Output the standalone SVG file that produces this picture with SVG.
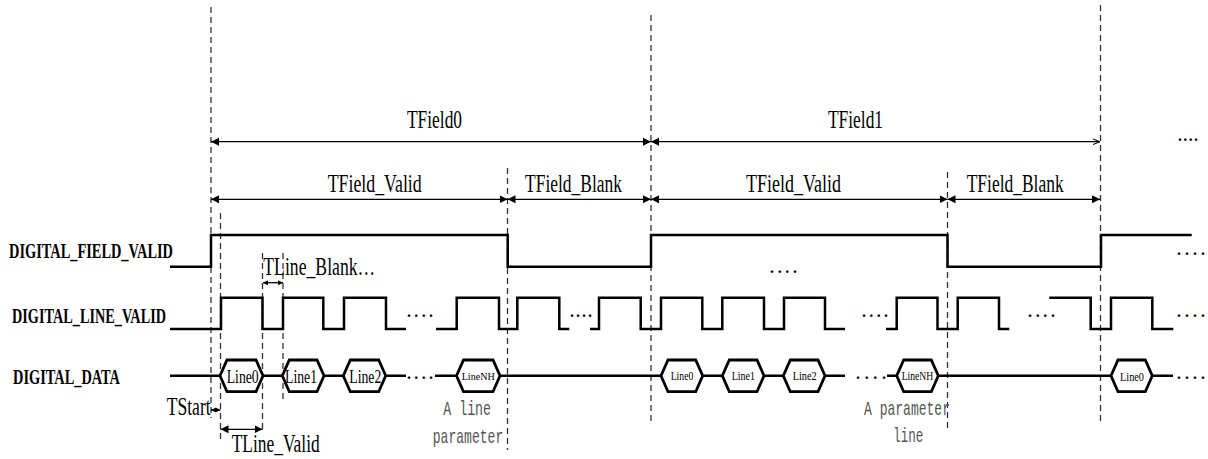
<svg xmlns="http://www.w3.org/2000/svg" width="1208" height="459" viewBox="0 0 1208 459">
<style>
  .bg{fill:#fff}
  .dash{stroke:#333;stroke-width:1.3;stroke-dasharray:6,4;fill:none}
  .wave{stroke:#000;stroke-width:2.5;fill:none;stroke-linejoin:miter}
  .hex{stroke:#000;stroke-width:2.8;fill:#fff;stroke-linejoin:miter}
  .dim{stroke:#000;stroke-width:1.3;fill:none}
  .lbl{font-family:"Liberation Serif",serif;font-weight:bold;font-size:20px;fill:#000}
  .t{font-family:"Liberation Serif",serif;font-size:25px;fill:#000}
  .h1{font-family:"Liberation Serif",serif;font-size:19px;fill:#000}
  .h2{font-family:"Liberation Serif",serif;font-size:13px;fill:#000}
  .hs{font-family:"Liberation Serif",serif;font-size:11px;fill:#000}
  .note{font-family:"Liberation Mono",monospace;font-size:21px;fill:#555}
  .dots{font-family:"Liberation Serif",serif;font-weight:bold;font-size:16px;fill:#000}
</style>
<defs>
  <marker id="arr" viewBox="0 0 10 10" refX="10" refY="5" markerUnits="userSpaceOnUse" markerWidth="8" markerHeight="9" orient="auto-start-reverse">
    <path d="M0,0 L10,5 L0,10 z" fill="#000"/>
  </marker>
  <marker id="arrS" viewBox="0 0 10 10" refX="10" refY="5" markerUnits="userSpaceOnUse" markerWidth="5" markerHeight="6" orient="auto-start-reverse">
    <path d="M0,0 L10,5 L0,10 z" fill="#000"/>
  </marker>
  <marker id="arrO" viewBox="0 0 10 10" refX="10" refY="5" markerUnits="userSpaceOnUse" markerWidth="7" markerHeight="7" orient="auto-start-reverse">
    <path d="M0,1 L10,5 L0,9" fill="none" stroke="#000" stroke-width="1.5"/>
  </marker>
</defs>
<rect class="bg" x="0" y="0" width="1208" height="459"/>

<g id="guides">
  <line class="dash" x1="211" y1="7" x2="211" y2="418"/>
  <line class="dash" x1="220.5" y1="213" x2="220.5" y2="440"/>
  <line class="dash" x1="262.5" y1="253" x2="262.5" y2="432"/>
  <line class="dash" x1="283" y1="253" x2="283" y2="400"/>
  <line class="dash" x1="507.5" y1="168" x2="507.5" y2="450"/>
  <line class="dash" x1="651" y1="15" x2="651" y2="423"/>
  <line class="dash" x1="947.5" y1="172" x2="947.5" y2="430"/>
  <line class="dash" x1="1100.5" y1="5" x2="1100.5" y2="423"/>
</g>

<g id="labels">
  <text class="lbl" x="9" y="258" textLength="164" lengthAdjust="spacingAndGlyphs">DIGITAL_FIELD_VALID</text>
  <text class="lbl" x="12" y="323" textLength="154" lengthAdjust="spacingAndGlyphs">DIGITAL_LINE_VALID</text>
  <text class="lbl" x="13" y="384" textLength="107" lengthAdjust="spacingAndGlyphs">DIGITAL_DATA</text>
</g>

<g id="connectors">
  <line class="dim" x1="211" y1="141.7" x2="651" y2="141.7" marker-start="url(#arr)" marker-end="url(#arr)"/>
  <line class="dim" x1="651" y1="141.7" x2="1100" y2="141.7" marker-start="url(#arr)" marker-end="url(#arrO)"/>
  <line class="dim" x1="211" y1="199.3" x2="507.5" y2="199.3" marker-start="url(#arr)" marker-end="url(#arr)"/>
  <line class="dim" x1="507.5" y1="199.3" x2="651" y2="199.3" marker-start="url(#arr)" marker-end="url(#arr)"/>
  <line class="dim" x1="651" y1="199.3" x2="947.5" y2="199.3" marker-start="url(#arr)" marker-end="url(#arr)"/>
  <line class="dim" x1="947.5" y1="199.3" x2="1100" y2="199.3" marker-start="url(#arr)" marker-end="url(#arr)"/>
  <line class="dim" x1="263" y1="282.7" x2="283" y2="282.7" marker-start="url(#arrS)" marker-end="url(#arrS)"/>
  <line class="dim" x1="211" y1="410" x2="220.5" y2="410" marker-start="url(#arrS)" marker-end="url(#arrS)"/>
  <line class="dim" x1="220.5" y1="429.3" x2="262.5" y2="429.3" marker-start="url(#arr)" marker-end="url(#arr)"/>
</g>

<g id="dim-labels">
  <text class="t" x="407" y="128" textLength="55" lengthAdjust="spacingAndGlyphs">TField0</text>
  <text class="t" x="828" y="128" textLength="55" lengthAdjust="spacingAndGlyphs">TField1</text>
  <text class="t" x="327.7" y="191.7" textLength="94" lengthAdjust="spacingAndGlyphs">TField_Valid</text>
  <text class="t" x="525" y="191.7" textLength="97" lengthAdjust="spacingAndGlyphs">TField_Blank</text>
  <text class="t" x="746" y="191.7" textLength="95" lengthAdjust="spacingAndGlyphs">TField_Valid</text>
  <text class="t" x="966.7" y="191.7" textLength="97" lengthAdjust="spacingAndGlyphs">TField_Blank</text>
  <text class="t" x="263.3" y="275" textLength="112" lengthAdjust="spacingAndGlyphs">TLine_Blank…</text>
  <text class="t" x="166.7" y="415" font-size="21" textLength="44" lengthAdjust="spacingAndGlyphs">TStart</text>
  <text class="t" x="231.7" y="451.7" font-size="23" textLength="88" lengthAdjust="spacingAndGlyphs">TLine_Valid</text>
  <text class="dots" x="1178" y="141" textLength="20" lengthAdjust="spacing">....</text>
</g>

<g id="field-valid">
  <path class="wave" d="M170,266.7 H211 V235 H507.7 V266.7 H651 V235 H947.5 V266.7 H1101 V235 H1191.7"/>
  <text class="dots" x="770" y="273" textLength="27" lengthAdjust="spacing">....</text>
  <text class="dots" x="1177" y="255" textLength="28" lengthAdjust="spacing">....</text>
</g>

<g id="line-valid">
  <path class="wave" d="M170,329 H221 V297.7 H262.5 V329 H283 V297.7 H323.3 V329 H344 V297.7 H386 V329 H406"/>
  <path class="wave" d="M436,329 H456.7 V297.7 H499 V329 H517.3 V297.7 H559.3 V329 H569.3"/>
  <path class="wave" d="M590,329 H599 V297.7 H640.7 V329 H661 V297.7 H702.3 V329 H722.3 V297.7 H764 V329 H784 V297.7 H825 V329 H845"/>
  <path class="wave" d="M886,329 H896.7 V297.7 H937.5 V329 H957.7 V297.7 H999 V329 H1009.3"/>
  <path class="wave" d="M1049.3,297.7 H1090.7 V329 H1111 V297.7 H1152.3 V329 H1173.3"/>
  <text class="dots" x="407" y="317" textLength="26" lengthAdjust="spacing">....</text>
  <text class="dots" x="570" y="317" textLength="22" lengthAdjust="spacing">....</text>
  <text class="dots" x="862" y="317" textLength="26" lengthAdjust="spacing">....</text>
  <text class="dots" x="1028" y="317" textLength="27" lengthAdjust="spacing">....</text>
  <text class="dots" x="1177" y="317" textLength="28" lengthAdjust="spacing">....</text>
</g>

<g id="data">
  <path class="wave" d="M170,375.7 H406 M435,375.7 H845 M887,375.7 H1173"/>
  <text class="dots" x="407" y="379" textLength="26" lengthAdjust="spacing">....</text>
  <text class="dots" x="856" y="379" textLength="30" lengthAdjust="spacing">....</text>
  <text class="dots" x="1177" y="379" textLength="28" lengthAdjust="spacing">....</text>
</g>

<g id="hex-f0-line0">
  <polygon class="hex" points="220,375.7 227,360 256,360 263,375.7 256,391.7 227,391.7"/>
  <text class="h1" x="226.7" y="383.3" textLength="32" lengthAdjust="spacingAndGlyphs">Line0</text>
</g>
<g id="hex-f0-line1">
  <polygon class="hex" points="282.3,375.7 289.3,360 317,360 324,375.7 317,391.7 289.3,391.7"/>
  <text class="h1" x="285" y="383.3" textLength="32" lengthAdjust="spacingAndGlyphs">Line1</text>
</g>
<g id="hex-f0-line2">
  <polygon class="hex" points="343.3,375.7 350.3,360 378.7,360 385.7,375.7 378.7,391.7 350.3,391.7"/>
  <text class="h1" x="349.3" y="383.3" textLength="32" lengthAdjust="spacingAndGlyphs">Line2</text>
</g>
<g id="hex-f0-linenh">
  <polygon class="hex" points="456.5,375.7 463.5,360 493,360 500,375.7 493,391.7 463.5,391.7"/>
  <text class="hs" x="461.7" y="380" textLength="33" lengthAdjust="spacingAndGlyphs">LineNH</text>
</g>
<g id="hex-f1-line0">
  <polygon class="hex" points="661,375.7 668,360 695.7,360 702.7,375.7 695.7,391.7 668,391.7"/>
  <text class="h2" x="670.7" y="380" textLength="22.6" lengthAdjust="spacingAndGlyphs">Line0</text>
</g>
<g id="hex-f1-line1">
  <polygon class="hex" points="722.3,375.7 729.3,360 757,360 764,375.7 757,391.7 729.3,391.7"/>
  <text class="h2" x="731.7" y="380" textLength="23.3" lengthAdjust="spacingAndGlyphs">Line1</text>
</g>
<g id="hex-f1-line2">
  <polygon class="hex" points="783.3,375.7 790.3,360 818,360 825,375.7 818,391.7 790.3,391.7"/>
  <text class="h2" x="792.7" y="380" textLength="24" lengthAdjust="spacingAndGlyphs">Line2</text>
</g>
<g id="hex-f1-linenh">
  <polygon class="hex" points="896.7,375.7 903.7,360 931.3,360 938.3,375.7 931.3,391.7 903.7,391.7"/>
  <text class="h2" x="901.7" y="380" textLength="31.6" lengthAdjust="spacingAndGlyphs">LineNH</text>
</g>
<g id="hex-f2-line0">
  <polygon class="hex" points="1111,375.7 1118,360 1145.3,360 1152.3,375.7 1145.3,391.7 1118,391.7"/>
  <text class="h2" x="1120" y="381" textLength="24" lengthAdjust="spacingAndGlyphs">Line0</text>
</g>

<g id="notes">
  <text class="note" x="443.3" y="415" textLength="47.7" lengthAdjust="spacingAndGlyphs">A line</text>
  <text class="note" x="432.7" y="443.3" textLength="70.6" lengthAdjust="spacingAndGlyphs">parameter</text>
  <text class="note" x="864" y="415" textLength="86" lengthAdjust="spacingAndGlyphs">A parameter</text>
  <text class="note" x="893.3" y="441.7" textLength="30" lengthAdjust="spacingAndGlyphs">line</text>
</g>
</svg>
